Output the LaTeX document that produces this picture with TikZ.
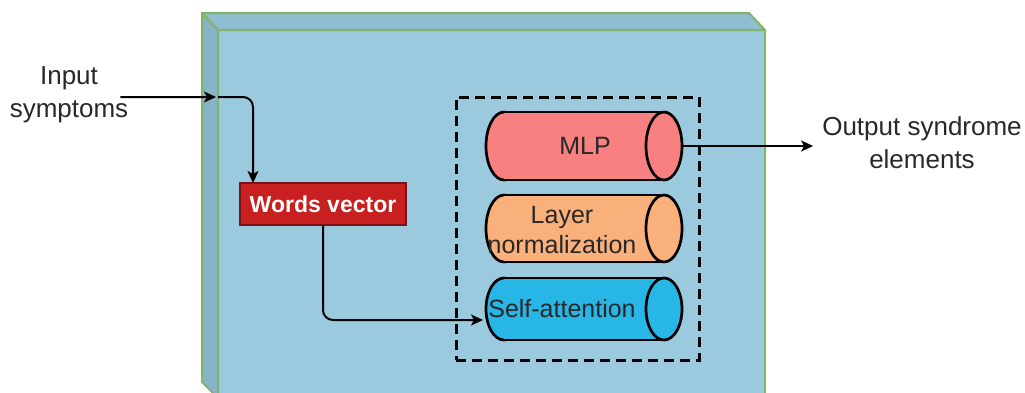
\documentclass[tikz,border=0pt]{standalone}
\usepackage{fontspec}
\setmainfont{Liberation Sans}
\usetikzlibrary{arrows.meta,calc}
\definecolor{frontc}{RGB}{155,201,221}
\definecolor{topc}{RGB}{143,190,208}
\definecolor{leftc}{RGB}{135,180,200}
\definecolor{greenc}{RGB}{130,179,102}
\definecolor{mlpc}{RGB}{248,128,128}
\definecolor{lnc}{RGB}{249,176,122}
\definecolor{sac}{RGB}{40,182,230}
\definecolor{wvc}{RGB}{200,32,32}
\definecolor{wvb}{RGB}{120,20,20}
\definecolor{txt}{RGB}{40,40,40}
\newcommand\drawcyl[3]{%
  \draw[cylline, fill=#2] ($(#1.west)+(18,0)$) ellipse [x radius=18, y radius=#3];
  \fill[#2] ($(#1.north west)+(18,0)$) rectangle ($(#1.south east)+(-18,0)$);
  \draw[cylline] ($(#1.north west)+(18,0)$) -- ($(#1.north east)+(-18,0)$);
  \draw[cylline] ($(#1.south west)+(18,0)$) -- ($(#1.south east)+(-18,0)$);
  \draw[cylline, fill=#2] ($(#1.east)+(-18,0)$) ellipse [x radius=18, y radius=#3];
}
\tikzset{
  conn/.style={draw=black, line width=2bp, -{Stealth[length=12bp,width=11bp,inset=3bp]}},
  lbl/.style={font=\fontsize{26bp}{33bp}\selectfont, text=txt, align=center, inner sep=0pt},
  cyltext/.style={font=\fontsize{25bp}{30bp}\selectfont, text=txt, align=center, inner sep=0pt},
  cylbox/.style={draw=none, inner sep=0pt, outer sep=0pt, minimum width=196bp},
  cylline/.style={draw=black, line width=2.7bp},
  wvbox/.style={draw=wvb, line width=1.8bp, fill=wvc, text=white, font=\bfseries\fontsize{23bp}{28bp}\selectfont,
    minimum width=166bp, minimum height=42bp, inner sep=0pt, outer sep=0pt},
  grpbox/.style={draw=black, line width=3bp, dash pattern=on 10bp off 6bp, minimum width=243bp, minimum height=263bp, inner sep=0pt},
  face/.style={draw=greenc, line width=2bp, line join=round}
}
\begin{document}
\begin{tikzpicture}[x=1bp,y=-1bp]
\useasboundingbox (0,0) rectangle (1025,392);
\begin{scope}
\clip (0,0) rectangle (1025,392);
\filldraw[face, fill=frontc] (218,30) rectangle (765,420);
\filldraw[face, fill=topc] (202,13) -- (749,13) -- (765,30) -- (218,30) -- cycle;
\filldraw[face, fill=leftc] (202,13) -- (218,30) -- (218,398) -- (202,382) -- cycle;
\end{scope}

\node[grpbox] (grp) at (577.5,228.5) {};

\node[cylbox, minimum height=68bp] (mlp) at (584,146) {};
\node[cylbox, minimum height=67bp] (ln) at (584,228.5) {};
\node[cylbox, minimum height=62bp] (sa) at (584,309) {};
\drawcyl{mlp}{mlpc}{34}
\drawcyl{ln}{lnc}{33.5}
\drawcyl{sa}{sac}{31}
\node[cyltext] (mlpt) at (585,146) {MLP};
\node[cyltext] (lnt) at (562,230) {Layer\\normalization};
\node[cyltext] (sat) at (562,309) {Self-attention};

\node[wvbox] (wv) at (323,204) {Words vector};

\node[lbl] (inp) at (69,95) {Input\\symptoms};
\node[lbl] (out) at (922,143) {Output syndrome\\elements};

\coordinate (entry) at (216,97);
\coordinate (entry2) at (218,97);
\draw[conn] ([xshift=-8bp,yshift=-2bp]inp.east) -- (entry);
\draw[conn, rounded corners=10bp] (entry2) -| ([xshift=-70bp]wv.north);
\draw[conn, rounded corners=10bp] (wv.south) |- ($(sa.west)+(-3,11)$);
\draw[conn] (mlp.east) -- ([xshift=-9bp]mlp.east -| out.west);
\end{tikzpicture}
\end{document}
